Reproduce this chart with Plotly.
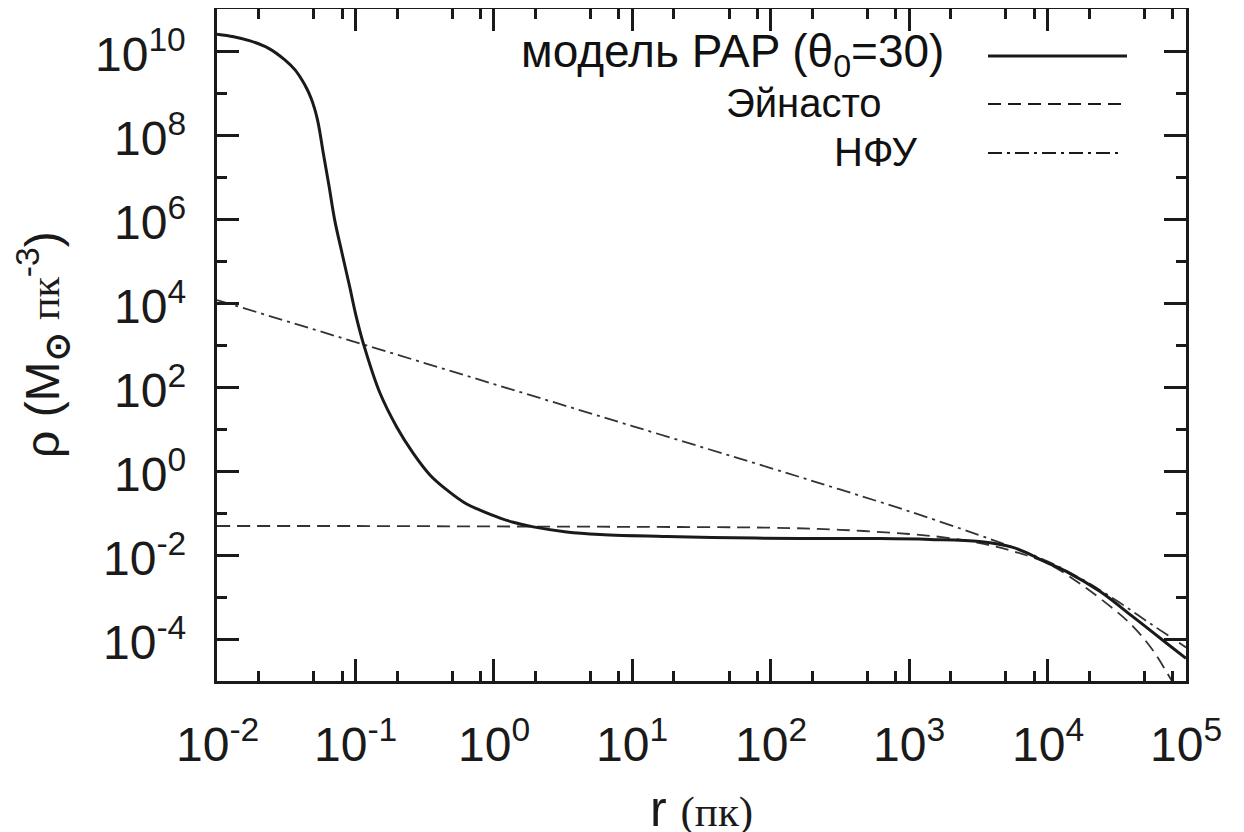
import plotly.graph_objects as go

# ---- data (log10 values: log10 r [pc], log10 rho [Msun/pc^3]) ----
pap_logr = [-2.0, -1.88, -1.76, -1.63, -1.51, -1.436, -1.386, -1.350, -1.321, -1.296, -1.274,
            -1.256, -1.234, -1.191, -1.15, -1.097, -1.041, -0.996, -0.943, -0.822, -0.702,
            -0.582, -0.46, -0.34, -0.2, -0.1, 0.045, 0.14, 0.285, 0.526, 0.767, 1.25, 1.73,
            2.21, 2.79, 3.15, 3.51, 3.75, 3.995, 4.14, 4.38, 4.62, 4.86, 5.0]
pap_logrho = [10.40, 10.34, 10.24, 10.07, 9.79, 9.55, 9.31, 9.095, 8.88, 8.64, 8.36,
              8.05, 7.60, 6.79, 5.98, 5.19, 4.38, 3.70, 3.04, 1.85, 1.05,
              0.42, -0.10, -0.45, -0.78, -0.93, -1.12, -1.22, -1.33, -1.45, -1.51, -1.56, -1.59,
              -1.61, -1.61, -1.63, -1.68, -1.82, -2.18, -2.40, -2.87, -3.48, -4.10, -4.46]

ein_logr = [-2.0, -1.0, 0.0, 1.0, 2.0, 2.5, 3.0, 3.25, 3.5, 3.75, 4.0, 4.25, 4.5, 4.62, 4.75, 4.88, 5.0]
ein_logrho = [-1.31, -1.31, -1.32, -1.33, -1.35, -1.40, -1.50, -1.58, -1.71, -1.91, -2.20,
              -2.72, -3.35, -3.71, -4.22, -4.90, -5.60]

nfw_logr = [-2.0, -1.0, 0.0, 1.0, 2.0, 2.5, 3.0, 3.5, 3.75, 4.0, 4.25, 4.5, 4.75, 5.0]
nfw_logrho = [4.07, 3.07, 2.07, 1.07, 0.07, -0.44, -0.96, -1.52, -1.82, -2.15, -2.58, -3.09, -3.65, -4.20]

# tick decades (exponents) and their labels
x_tick_exp = [-2, -1, 0, 1, 2, 3, 4, 5]
x_ticktext = ["10<sup>-2</sup>", "10<sup>-1</sup>", "10<sup>0</sup>", "10<sup>1</sup>",
              "10<sup>2</sup>", "10<sup>3</sup>", "10<sup>4</sup>", "10<sup>5</sup>"]
y_tick_exp = [-4, -2, 0, 2, 4, 6, 8, 10]
y_ticktext = ["10<sup>-4</sup>", "10<sup>-2</sup>", "10<sup>0</sup>", "10<sup>2</sup>",
              "10<sup>4</sup>", "10<sup>6</sup>", "10<sup>8</sup>", "10<sup>10</sup>"]
x_minor_mult = [2, 5, 8]
y_minor_exp = [-5, -3, -1, 1, 3, 5, 7, 9, 11]

legend_labels = ["модель PAP (θ<sub>0</sub>=30)", "Эйнасто", "НФУ"]
x_title = "r <span style='font-family:Liberation Serif, Times New Roman, serif; font-size:43px'>(пк)</span>"
y_title = ("ρ (M<sub><b>⊙</b></sub> <span style='font-family:Liberation Serif, Times New Roman, serif; "
           "font-size:42px'>пк</span><sup>-3</sup>)")

# ---- figure (log-log chart drawn on axes of decimal exponents) ----
import math
x_minor = [e + math.log10(m) for e in range(-2, 5) for m in x_minor_mult]

INK = "#1a1a1a"
fig = go.Figure()
fig.add_trace(go.Scatter(x=ein_logr, y=ein_logrho, mode="lines",
                         line=dict(color="#333333", width=1.8, dash="13px,7px", shape="spline"),
                         showlegend=False, hoverinfo="skip"))
fig.add_trace(go.Scatter(x=nfw_logr, y=nfw_logrho, mode="lines",
                         line=dict(color="#333333", width=1.8, dash="14px,5px,3px,5px", shape="spline"),
                         showlegend=False, hoverinfo="skip"))
fig.add_trace(go.Scatter(x=pap_logr, y=pap_logrho, mode="lines",
                         line=dict(color=INK, width=3, shape="spline", smoothing=1.0),
                         showlegend=False, hoverinfo="skip"))
# invisible carrier trace for the minor-tick overlay axes
fig.add_trace(go.Scatter(x=pap_logr, y=pap_logrho, mode="lines", xaxis="x2", yaxis="y2",
                         line=dict(width=0), opacity=0, hoverinfo="skip", showlegend=False))

tick_axis = dict(
    type="linear", showline=True, linewidth=3, linecolor=INK, mirror="ticks",
    ticks="inside", tickwidth=3, tickcolor=INK,
    showgrid=False, zeroline=False, showticklabels=False,
)

fig.update_layout(
    template="none",
    xaxis=dict(range=[-2, 5], tickmode="array", tickvals=x_tick_exp, ticklen=22, **tick_axis),
    yaxis=dict(range=[-5, 11], tickmode="array", tickvals=y_tick_exp, ticklen=22, **tick_axis),
    xaxis2=dict(overlaying="x", anchor="y2", side="bottom", range=[-2, 5], tickmode="array",
                tickvals=x_minor, ticklen=10, **tick_axis),
    yaxis2=dict(overlaying="y", anchor="x2", side="left", range=[-5, 11], tickmode="array",
                tickvals=y_minor_exp, ticklen=10, **tick_axis),
)

# page has an 8px body margin: lay out in figure pixels = screen pixels - 8
OFF = 8
W, H = 1244 - OFF, 832 - OFF
L, T = 217 - OFF, 9 - OFF
R, B = W - (1186 - OFF), H - (681 - OFF)
pw_ = W - L - R
ph_ = H - T - B

def px_x(x):
    return (x - OFF - L) / pw_

def px_y(y):
    return 1 - (y - OFF - T) / ph_

TICKFONT = dict(family="Liberation Sans, Arial, sans-serif", size=48, color=INK)
# tick labels, anchored at the tick positions of the axes
for e, txt in zip(x_tick_exp, x_ticktext):
    fig.add_annotation(text=txt, xref="x", yref="paper", x=e, y=px_y(709),
                       xanchor="center", yanchor="top", showarrow=False, font=TICKFONT)
for e, txt in zip(y_tick_exp, y_ticktext):
    fig.add_annotation(text=txt, xref="paper", yref="y", x=px_x(188), y=e,
                       xanchor="right", yanchor="middle", showarrow=False, font=TICKFONT)

# axis titles
fig.add_annotation(text=x_title, xref="paper", yref="paper", x=0.5, y=px_y(809),
                   xanchor="center", yanchor="middle", showarrow=False,
                   font=dict(family="Liberation Sans, Arial, sans-serif", size=50, color=INK))
fig.add_annotation(text=y_title, xref="paper", yref="paper", x=px_x(42), y=px_y(345),
                   xanchor="center", yanchor="middle", textangle=-90, showarrow=False,
                   font=dict(family="Liberation Sans, Arial, sans-serif", size=48, color=INK))

# manual legend: right-aligned text with sample line on the right
leg_font_size = [46, 40, 40]
leg_text_x = [946, 884, 920]
leg_y = [55, 103, 152]
leg_line_y = [56, 104, 153]
leg_dash = ["solid", "13px,7px", "14px,5px,3px,5px"]
leg_width = [3, 1.8, 1.8]
leg_line_x1 = [1127, 1127, 1120]
for i, lab in enumerate(legend_labels):
    fig.add_annotation(text=lab, xref="paper", yref="paper",
                       x=px_x(leg_text_x[i]), y=px_y(leg_y[i]),
                       xanchor="right", yanchor="middle", showarrow=False,
                       font=dict(family="Liberation Sans, Arial, sans-serif",
                                 size=leg_font_size[i], color="#111111"))
    fig.add_shape(type="line", xref="paper", yref="paper",
                  x0=px_x(988), x1=px_x(leg_line_x1[i]),
                  y0=px_y(leg_line_y[i]), y1=px_y(leg_line_y[i]),
                  line=dict(color=INK, width=leg_width[i], dash=leg_dash[i]))

fig.update_layout(width=W, height=H, margin=dict(l=L, r=R, t=T, b=B),
                  plot_bgcolor="white", paper_bgcolor="white", showlegend=False)

fig.write_html("out.html")
